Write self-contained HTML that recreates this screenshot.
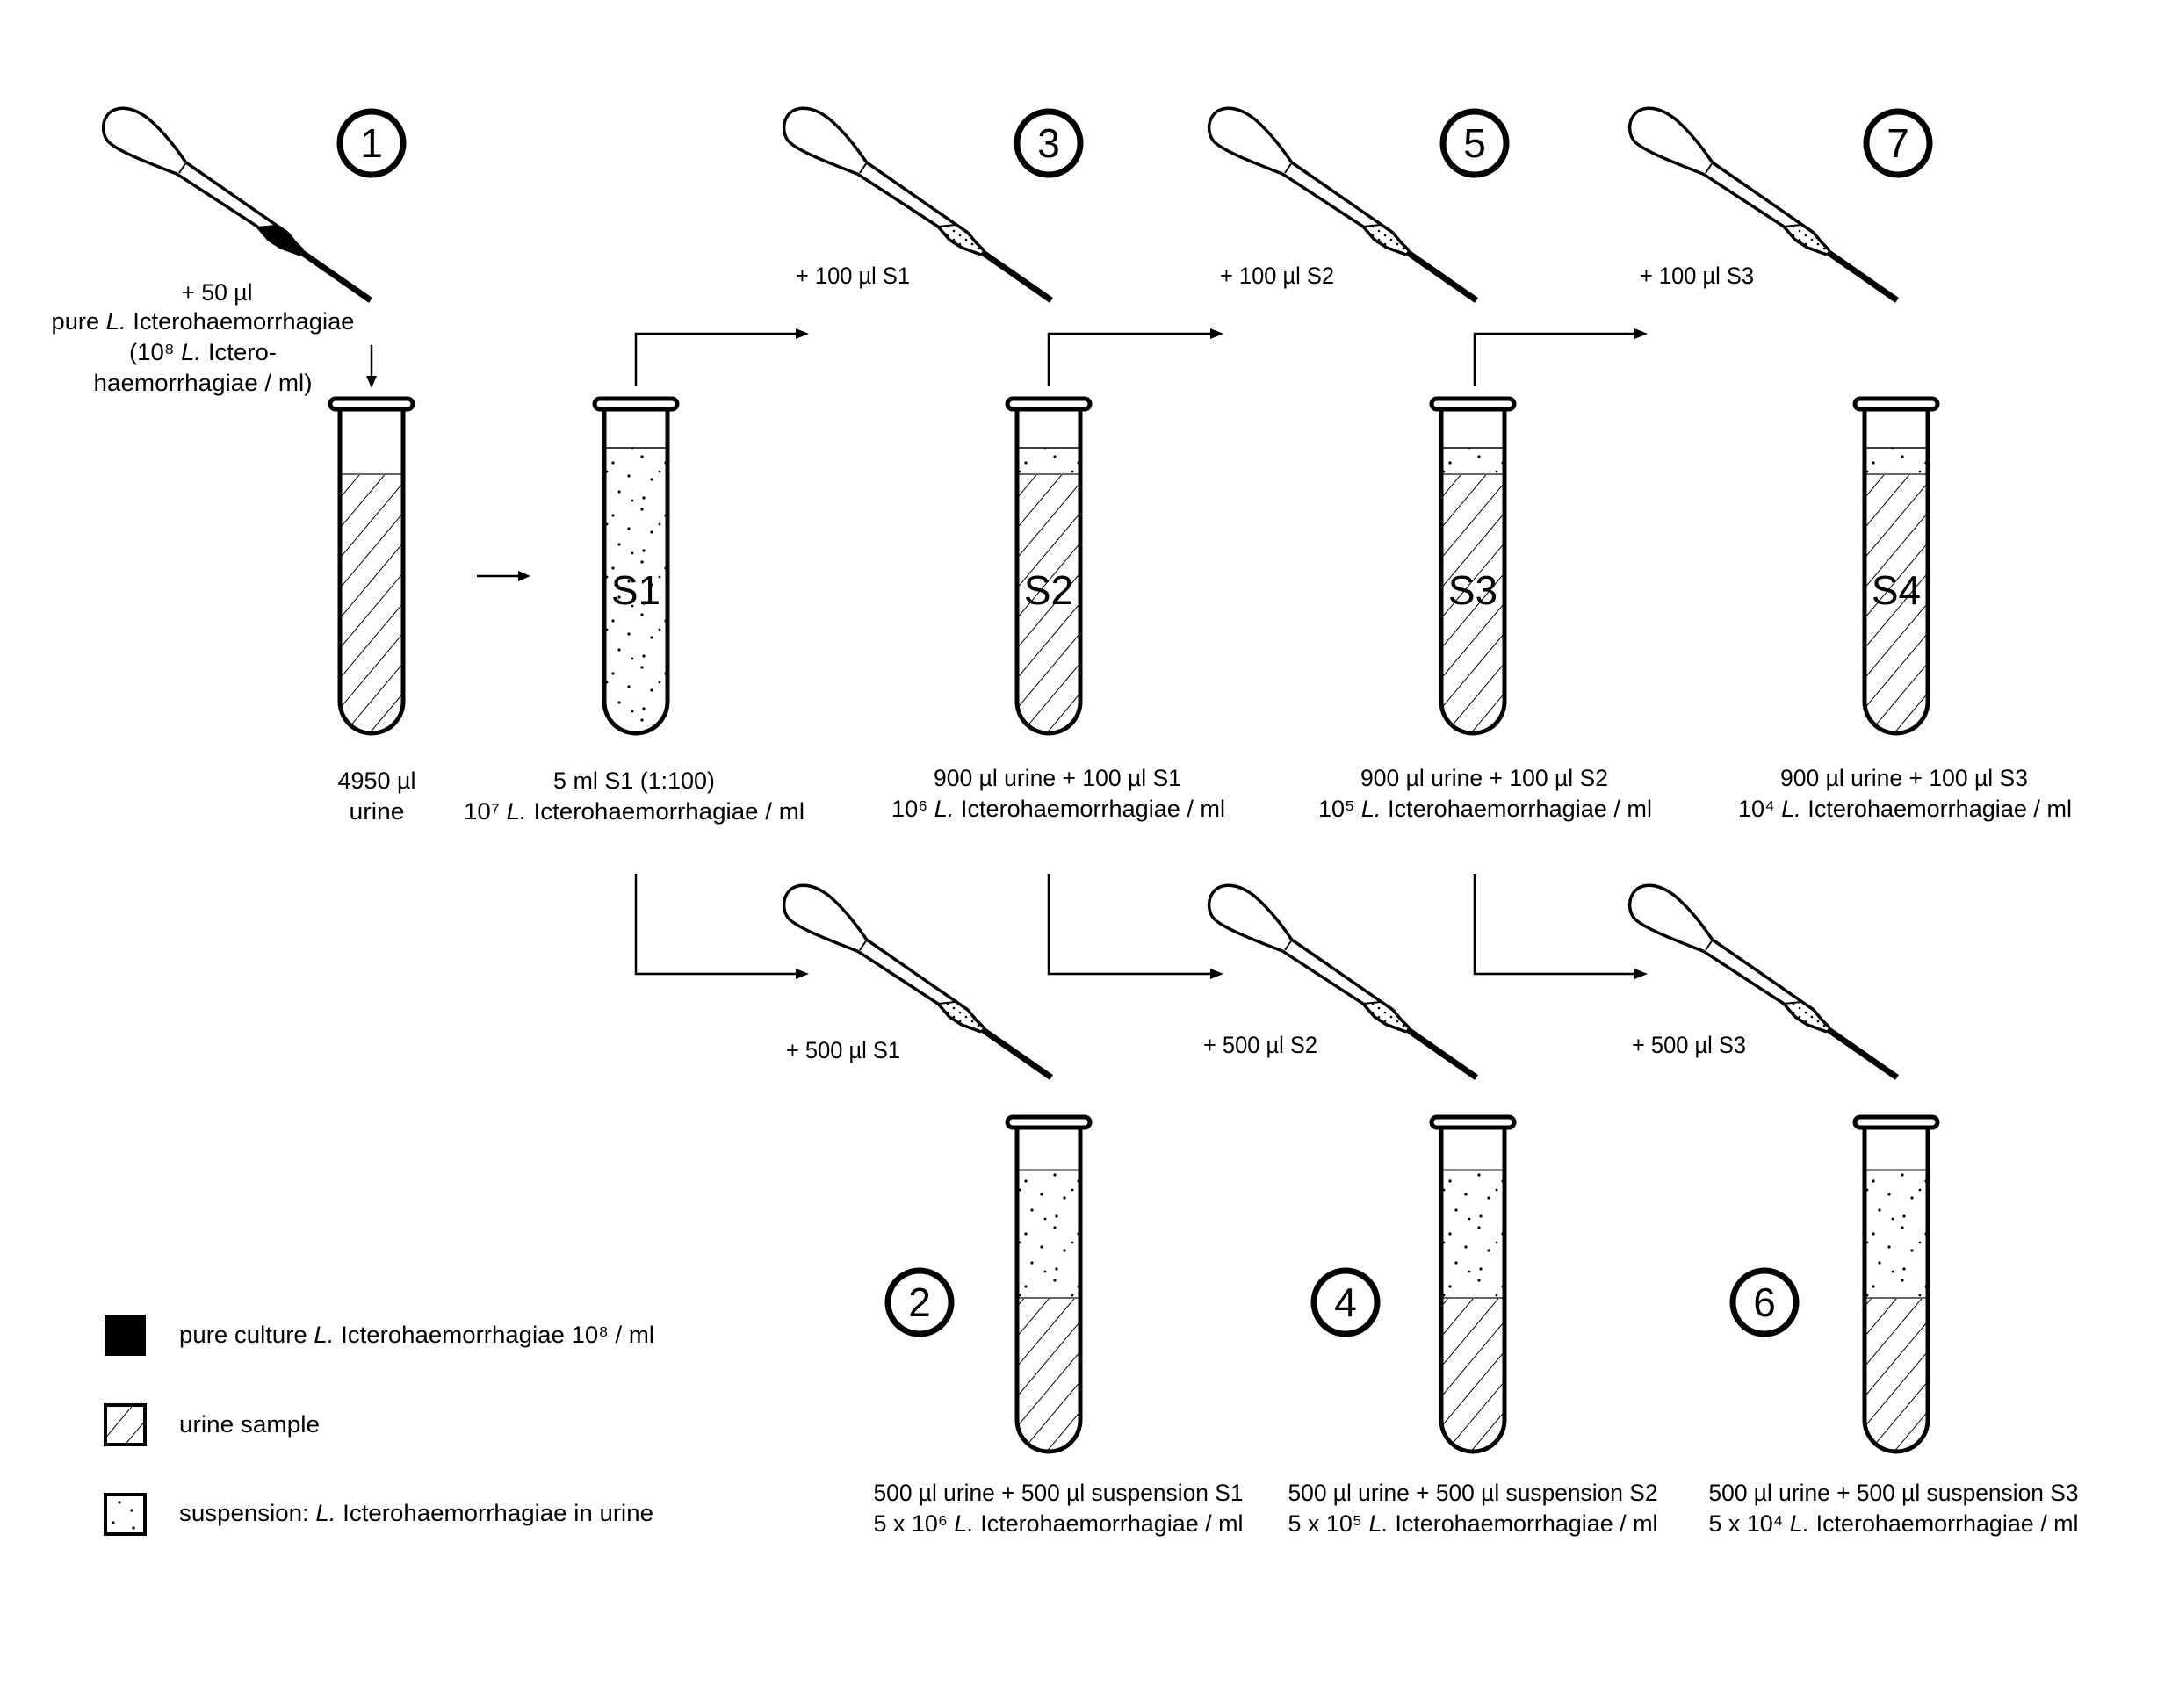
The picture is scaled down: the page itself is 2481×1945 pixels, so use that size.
<!DOCTYPE html>
<html><head><meta charset="utf-8"><style>
html,body{margin:0;padding:0;background:#fff}
svg{display:block}
text{font-family:"Liberation Sans",sans-serif;fill:#000}
</style></head><body>
<svg width="2481" height="1945" viewBox="0 0 2481 1945" xmlns="http://www.w3.org/2000/svg" style="font-size:27px">
<defs>
<pattern id="hatch" patternUnits="userSpaceOnUse" width="22" height="22" patternTransform="rotate(40)">
<line x1="0" y1="-5" x2="0" y2="30" stroke="#000" stroke-width="2"/>
</pattern>
<pattern id="dots" patternUnits="userSpaceOnUse" width="60" height="60">
<circle cx="7" cy="5" r="1.6"/><circle cx="34" cy="12" r="1.6"/><circle cx="52" cy="27" r="1.6"/>
<circle cx="18" cy="31" r="1.6"/><circle cx="41" cy="45" r="1.6"/><circle cx="9" cy="52" r="1.6"/>
<circle cx="27" cy="22" r="1.4"/><circle cx="56" cy="55" r="1.4"/>
</pattern>
<pattern id="pdots" patternUnits="userSpaceOnUse" width="14" height="10">
<circle cx="3" cy="3" r="1.3"/><circle cx="10" cy="8" r="1.3"/>
</pattern>
<clipPath id="tin" clipPathUnits="userSpaceOnUse"><path d="M-36,11 V344 A36,36 0 0 0 36,344 V11 Z"/></clipPath>
<g id="tubeout">
<path d="M-36,11 V344 A36,36 0 0 0 36,344 V11" fill="none" stroke="#000" stroke-width="5"/>
<rect x="-47" y="-1" width="94" height="12" rx="6" fill="#fff" stroke="#000" stroke-width="5"/>
</g>
<g id="pipout" fill="none" stroke="#000" stroke-width="3.5" stroke-linejoin="round">
<path d="M211.7,185 C200,168 188,152 170,136 C155,124 140,120 128,126 C116,133 114,152 124,162 C135,172 160,182 201.7,198.3" fill="#fff"/>
<line x1="211.7" y1="185" x2="327" y2="265"/>
<line x1="201.7" y1="198.3" x2="293" y2="258"/>
<line x1="211" y1="186.5" x2="204" y2="197" stroke-width="2"/>
<path d="M327,265 L336,276 L345,285"/>
<path d="M293,258 L306,273 L320,282 L342,290"/>
<line x1="343" y1="287" x2="422" y2="342" stroke-width="7" stroke-linecap="butt"/>
</g>
<g id="pip">
<path d="M293,258 L313,256 L327,265 L336,276 L345,285 L340,290 L320,282 L306,273 Z" fill="url(#pdots)"/>
<line x1="293" y1="258" x2="313" y2="256" stroke="#000" stroke-width="2"/>
<use href="#pipout"/>
</g>
</defs>

<path d="M293,258 L313,256 L327,265 L336,276 L345,285 L340,290 L320,282 L306,273 Z" fill="#000"/>
<use href="#pipout"/>
<use href="#pip" transform="translate(775,0)"/>
<use href="#pip" transform="translate(1259,0)"/>
<use href="#pip" transform="translate(1738,0)"/>
<use href="#pip" transform="translate(775,885)"/>
<use href="#pip" transform="translate(1259,885)"/>
<use href="#pip" transform="translate(1738,885)"/>

<g fill="none" stroke="#000" stroke-width="7">
<circle cx="423" cy="163" r="36"/><circle cx="1194" cy="163" r="36"/>
<circle cx="1679" cy="163" r="36"/><circle cx="2161" cy="163" r="36"/>
<circle cx="1047" cy="1483" r="36"/><circle cx="1532" cy="1483" r="36"/>
<circle cx="2009" cy="1483" r="36"/>
</g>
<g text-anchor="middle" style="font-size:46px">
<text x="423" y="179">1</text><text x="1194" y="179">3</text>
<text x="1679" y="179">5</text><text x="2161" y="179">7</text>
<text x="1047" y="1499">2</text><text x="1532" y="1499">4</text>
<text x="2009" y="1499">6</text>
</g>

<g transform="translate(423,455)">
<g clip-path="url(#tin)"><rect x="-40" y="85" width="80" height="320" fill="url(#hatch)"/>
<line x1="-40" y1="85" x2="40" y2="85" stroke="#666" stroke-width="2"/></g>
<use href="#tubeout"/></g>
<g transform="translate(724,455)">
<g clip-path="url(#tin)"><rect x="-40" y="55" width="80" height="350" fill="url(#dots)"/>
<line x1="-40" y1="55" x2="40" y2="55" stroke="#000" stroke-width="1.5"/></g>
<use href="#tubeout"/></g>
<g transform="translate(1194,455)">
<g clip-path="url(#tin)"><rect x="-40" y="55" width="80" height="30" fill="url(#dots)"/><rect x="-40" y="85" width="80" height="320" fill="url(#hatch)"/>
<line x1="-40" y1="55" x2="40" y2="55" stroke="#000" stroke-width="1.5"/><line x1="-40" y1="85" x2="40" y2="85" stroke="#666" stroke-width="2"/></g>
<use href="#tubeout"/></g>
<g transform="translate(1677,455)">
<g clip-path="url(#tin)"><rect x="-40" y="55" width="80" height="30" fill="url(#dots)"/><rect x="-40" y="85" width="80" height="320" fill="url(#hatch)"/>
<line x1="-40" y1="55" x2="40" y2="55" stroke="#000" stroke-width="1.5"/><line x1="-40" y1="85" x2="40" y2="85" stroke="#666" stroke-width="2"/></g>
<use href="#tubeout"/></g>
<g transform="translate(2159,455)">
<g clip-path="url(#tin)"><rect x="-40" y="55" width="80" height="30" fill="url(#dots)"/><rect x="-40" y="85" width="80" height="320" fill="url(#hatch)"/>
<line x1="-40" y1="55" x2="40" y2="55" stroke="#000" stroke-width="1.5"/><line x1="-40" y1="85" x2="40" y2="85" stroke="#666" stroke-width="2"/></g>
<use href="#tubeout"/></g>

<g transform="translate(1194,1273)">
<g clip-path="url(#tin)"><rect x="-40" y="59" width="80" height="146" fill="url(#dots)"/><rect x="-40" y="205" width="80" height="200" fill="url(#hatch)"/>
<line x1="-40" y1="59" x2="40" y2="59" stroke="#666" stroke-width="1.5"/><line x1="-40" y1="205" x2="40" y2="205" stroke="#666" stroke-width="2"/></g>
<use href="#tubeout"/></g>
<g transform="translate(1677,1273)">
<g clip-path="url(#tin)"><rect x="-40" y="59" width="80" height="146" fill="url(#dots)"/><rect x="-40" y="205" width="80" height="200" fill="url(#hatch)"/>
<line x1="-40" y1="59" x2="40" y2="59" stroke="#666" stroke-width="1.5"/><line x1="-40" y1="205" x2="40" y2="205" stroke="#666" stroke-width="2"/></g>
<use href="#tubeout"/></g>
<g transform="translate(2159,1273)">
<g clip-path="url(#tin)"><rect x="-40" y="59" width="80" height="146" fill="url(#dots)"/><rect x="-40" y="205" width="80" height="200" fill="url(#hatch)"/>
<line x1="-40" y1="59" x2="40" y2="59" stroke="#666" stroke-width="1.5"/><line x1="-40" y1="205" x2="40" y2="205" stroke="#666" stroke-width="2"/></g>
<use href="#tubeout"/></g>

<g text-anchor="middle" style="font-size:46px">
<text x="724" y="688">S1</text><text x="1194" y="688">S2</text>
<text x="1677" y="688">S3</text><text x="2159" y="688">S4</text>
</g>

<g fill="none" stroke="#000" stroke-width="2.5">
<line x1="423" y1="393" x2="423" y2="430"/>
<line x1="543" y1="656" x2="592" y2="656"/>
<polyline points="724,440 724,380 908,380"/>
<polyline points="1194,440 1194,380 1380,380"/>
<polyline points="1679,440 1679,380 1863,380"/>
<polyline points="724,995 724,1109 908,1109"/>
<polyline points="1194,995 1194,1109 1380,1109"/>
<polyline points="1679,995 1679,1109 1863,1109"/>
</g>
<g fill="#000">
<path d="M417,428 L429,428 L423,442 Z"/>
<path d="M590,650 L590,662 L604,656 Z"/>
<path d="M906,374 L906,386 L921,380 Z"/><path d="M1378,374 L1378,386 L1393,380 Z"/><path d="M1861,374 L1861,386 L1876,380 Z"/>
<path d="M906,1103 L906,1115 L921,1109 Z"/><path d="M1378,1103 L1378,1115 L1393,1109 Z"/><path d="M1861,1103 L1861,1115 L1876,1109 Z"/>
</g>

<g text-anchor="middle">
<text x="247" y="342" textLength="81" lengthAdjust="spacingAndGlyphs">+ 50 µl</text>
<text x="231" y="375" textLength="345" lengthAdjust="spacingAndGlyphs">pure <tspan font-style="italic">L.</tspan> Icterohaemorrhagiae</text>
<text x="231" y="410" textLength="168" lengthAdjust="spacingAndGlyphs">(10⁸  <tspan font-style="italic">L.</tspan> Ictero-</text>
<text x="231" y="445" textLength="249" lengthAdjust="spacingAndGlyphs">haemorrhagiae / ml)</text>

<text x="971" y="323" textLength="130" lengthAdjust="spacingAndGlyphs">+ 100 µl S1</text>
<text x="1454" y="323" textLength="130" lengthAdjust="spacingAndGlyphs">+ 100 µl S2</text>
<text x="1932" y="323" textLength="130" lengthAdjust="spacingAndGlyphs">+ 100 µl S3</text>

<text x="429" y="898" textLength="89" lengthAdjust="spacingAndGlyphs">4950 µl</text>
<text x="429" y="933" textLength="63" lengthAdjust="spacingAndGlyphs">urine</text>
<text x="722" y="898" textLength="184" lengthAdjust="spacingAndGlyphs">5 ml  S1 (1:100)</text>
<text x="722" y="933" textLength="388" lengthAdjust="spacingAndGlyphs">10⁷  <tspan font-style="italic">L.</tspan> Icterohaemorrhagiae / ml</text>

<text x="1204" y="895" textLength="282" lengthAdjust="spacingAndGlyphs">900 µl urine  + 100 µl S1</text>
<text x="1205" y="930" textLength="380" lengthAdjust="spacingAndGlyphs">10⁶ <tspan font-style="italic">L.</tspan> Icterohaemorrhagiae / ml</text>
<text x="1690" y="895" textLength="282" lengthAdjust="spacingAndGlyphs">900 µl urine  + 100 µl S2</text>
<text x="1691" y="930" textLength="380" lengthAdjust="spacingAndGlyphs">10⁵ <tspan font-style="italic">L.</tspan> Icterohaemorrhagiae / ml</text>
<text x="2168" y="895" textLength="282" lengthAdjust="spacingAndGlyphs">900 µl urine  + 100 µl S3</text>
<text x="2169" y="930" textLength="380" lengthAdjust="spacingAndGlyphs">10⁴ <tspan font-style="italic">L.</tspan> Icterohaemorrhagiae / ml</text>

<text x="960" y="1205" textLength="130" lengthAdjust="spacingAndGlyphs">+ 500 µl S1</text>
<text x="1435" y="1199" textLength="130" lengthAdjust="spacingAndGlyphs">+ 500 µl S2</text>
<text x="1923" y="1199" textLength="130" lengthAdjust="spacingAndGlyphs">+ 500 µl S3</text>

<text x="1205" y="1709" textLength="421" lengthAdjust="spacingAndGlyphs">500 µl urine + 500 µl suspension S1</text>
<text x="1205" y="1744" textLength="421" lengthAdjust="spacingAndGlyphs">5 x 10⁶ <tspan font-style="italic">L.</tspan> Icterohaemorrhagiae / ml</text>
<text x="1677" y="1709" textLength="421" lengthAdjust="spacingAndGlyphs">500 µl urine + 500 µl suspension S2</text>
<text x="1677" y="1744" textLength="421" lengthAdjust="spacingAndGlyphs">5 x 10⁵ <tspan font-style="italic">L.</tspan> Icterohaemorrhagiae / ml</text>
<text x="2156" y="1709" textLength="421" lengthAdjust="spacingAndGlyphs">500 µl urine + 500 µl suspension S3</text>
<text x="2156" y="1744" textLength="421" lengthAdjust="spacingAndGlyphs">5 x 10⁴  <tspan font-style="italic">L.</tspan> Icterohaemorrhagiae / ml</text>
</g>

<rect x="119" y="1497" width="47" height="47" fill="#000"/>
<rect x="120" y="1600" width="45" height="45" fill="url(#hatch)" stroke="#000" stroke-width="4"/>
<rect x="120" y="1702" width="45" height="45" fill="#fff" stroke="#000" stroke-width="4"/>
<circle cx="136" cy="1711" r="1.6"/><circle cx="150" cy="1720" r="1.6"/><circle cx="129" cy="1734" r="1.6"/><circle cx="152" cy="1740" r="1.6"/>
<text x="204" y="1529" textLength="541" lengthAdjust="spacingAndGlyphs">pure culture  <tspan font-style="italic">L.</tspan> Icterohaemorrhagiae 10⁸ / ml</text>
<text x="204" y="1631" textLength="160" lengthAdjust="spacingAndGlyphs">urine sample</text>
<text x="204" y="1732" textLength="540" lengthAdjust="spacingAndGlyphs">suspension:  <tspan font-style="italic">L.</tspan> Icterohaemorrhagiae in urine</text>
</svg>
</body></html>
